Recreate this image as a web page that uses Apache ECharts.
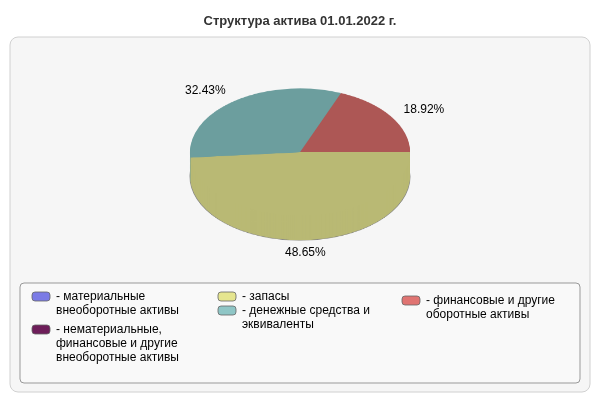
<!DOCTYPE html>
<html><head><meta charset="utf-8">
<script src="https://cdn.jsdelivr.net/npm/echarts@6/dist/echarts.min.js"></script>
<style>
body{margin:0;background:#fff}
#main{position:absolute;left:0;top:0;width:600px;height:400px}
#pie{position:absolute;left:180px;top:82px;width:240px;height:300px;transform:scaleY(0.58);transform-origin:0 0}
</style></head>
<body>
<div id="main"></div>
<div id="pie"></div>
<script>
var title = 'Структура актива 01.01.2022 г.';
var sliceNames = ['запасы', 'денежные средства и эквиваленты', 'финансовые и другие оборотные активы'];
var sliceValues = [18, 12, 7];
var sliceColors = ['#e5e58f', '#8fc6c6', '#e07472'];
var sideColors = ['#b9b974', '#6c9e9e', '#ad5755'];
var legendLabels = [
    '- материальные\nвнеоборотные активы',
    '- нематериальные,\nфинансовые и другие\nвнеоборотные активы',
    '- запасы',
    '- денежные средства и\nэквиваленты',
    '- финансовые и другие\nоборотные активы'
];
var legendColors = ['#7b7be6', '#6e1e5a', '#e5e58f', '#8fc6c6', '#e07472'];
var legendPos = [[32, 292], [32, 325], [218, 292], [218, 306], [402, 296]];

// pie drawn in its own div, squashed with css to look tilted
var pieChart = echarts.init(document.getElementById('pie'));
var series = [];
var depth = 43;
for (var d = depth; d >= 0; d -= 2) {
    series.push({
        type: 'pie', radius: 110, center: [120, 120 + d],
        startAngle: 0, clockwise: true, silent: true, animation: false,
        label: { show: false }, labelLine: { show: false },
        itemStyle: {
            borderColor: d === 0 ? '#666' : (d === depth ? '#777' : 'transparent'),
            borderWidth: d === 0 || d === depth ? 0.8 : 0
        },
        data: sliceValues.map(function (v, i) {
            return { value: v, name: sliceNames[i], itemStyle: { color: d === 0 ? sliceColors[i] : sideColors[i] } };
        })
    });
}
pieChart.setOption({ series: series });

// percent labels from the slice angles
var total = sliceValues.reduce(function (a, b) { return a + b; }, 0);
var labels = [];
var acc = 0;
sliceValues.forEach(function (v) {
    var mid = (acc + v / 2) / total * 2 * Math.PI;
    acc += v;
    var c = Math.cos(mid), s = Math.sin(mid);
    var x = 300 + 125 * c;
    var y = 152 + 76 * s + (s > 0 ? 25 : 0);
    labels.push({
        type: 'text', x: x, y: y,
        style: {
            text: (v / total * 100).toFixed(2) + '%', fontSize: 12, fill: '#000',
            fontFamily: 'Arial, Liberation Sans', align: c < -0.3 ? 'right' : (c > 0.3 ? 'left' : 'center'),
            verticalAlign: 'middle'
        }
    });
});

var legendItems = [];
legendLabels.forEach(function (t, i) {
    legendItems.push({
        type: 'rect', shape: { x: legendPos[i][0], y: legendPos[i][1], width: 18, height: 9, r: 3 },
        style: { fill: legendColors[i], stroke: '#666', lineWidth: 0.8 }
    });
    legendItems.push({
        type: 'text', x: legendPos[i][0] + 24, y: legendPos[i][1] - 2,
        style: { text: t, fontSize: 12, lineHeight: 14, fill: '#000', fontFamily: 'Arial, Liberation Sans' }
    });
});

var myChart = echarts.init(document.getElementById('main'));
myChart.setOption({
    title: {
        text: title, left: 'center', top: 10,
        textStyle: { fontSize: 13, fontWeight: 'bold', color: '#333', fontFamily: 'Arial, Liberation Sans' }
    },
    graphic: [
        { type: 'rect', shape: { x: 10, y: 37, width: 580, height: 355, r: 8 }, style: { fill: '#f6f6f6', stroke: '#d0d0d0' } },
        { type: 'rect', shape: { x: 20, y: 283, width: 560, height: 100, r: 4 }, style: { fill: '#f9f9f9', stroke: '#999' } }
    ].concat(legendItems).concat(labels)
});
</script>
</body></html>
